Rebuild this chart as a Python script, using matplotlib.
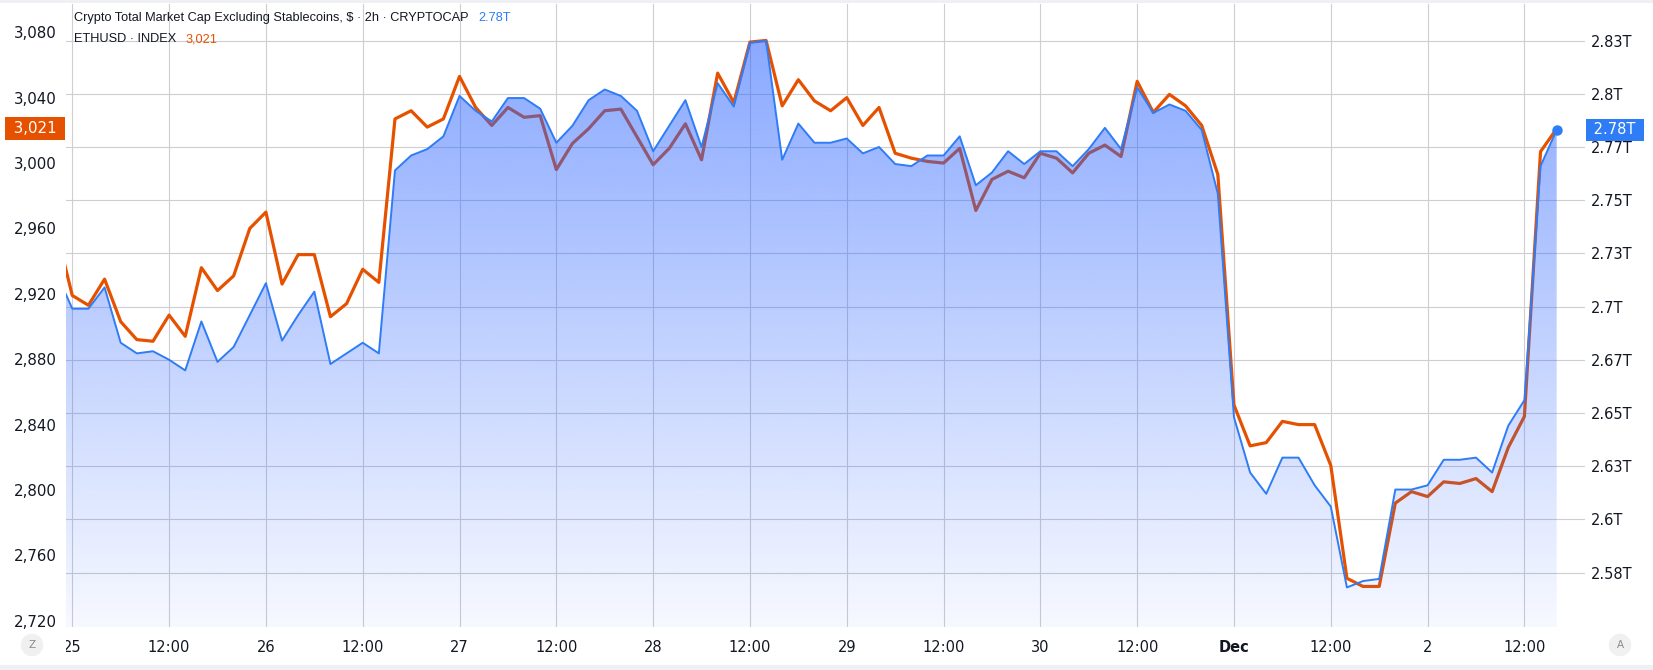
import numpy as np
import matplotlib
matplotlib.use("Agg")
import matplotlib.pyplot as plt
from matplotlib.patches import Polygon, Rectangle
from matplotlib.transforms import Bbox, TransformedBbox, blended_transform_factory

# 2h bars, hours after Nov 25 00:00 (first bar sits just past the left edge)
hours = np.arange(-2, 186, 2)

eth = [2959,
       2919, 2913, 2929, 2903, 2892, 2891, 2907, 2894, 2936, 2922,
       2931, 2960, 2970, 2926, 2944, 2944, 2906, 2914, 2935, 2927,
       3027, 3032, 3022, 3027, 3053, 3034, 3023, 3034, 3028, 3029,
       2996, 3012, 3021, 3032, 3033, 3016, 2999, 3009, 3024, 3002,
       3055, 3037, 3074, 3075, 3035, 3051, 3038, 3032, 3040, 3023,
       3034, 3006, 3003, 3001, 3000, 3009, 2971, 2990, 2995, 2991,
       3006, 3003, 2994, 3006, 3011, 3004, 3050, 3031, 3042, 3035,
       3023, 2993, 2852, 2827, 2829, 2842, 2840, 2840, 2815, 2746,
       2741, 2741, 2792, 2799, 2796, 2805, 2804, 2807, 2799, 2826,
       2845, 3007, 3021]

# total market cap excl. stablecoins, in trillions
cap = [2.716,
       2.699, 2.699, 2.709, 2.683, 2.678, 2.679, 2.675, 2.670, 2.693, 2.674,
       2.681, 2.696, 2.711, 2.684, 2.696, 2.707, 2.673, 2.678, 2.683, 2.678,
       2.764, 2.771, 2.774, 2.780, 2.799, 2.792, 2.787, 2.798, 2.798, 2.793,
       2.777, 2.785, 2.797, 2.802, 2.799, 2.792, 2.773, 2.785, 2.797, 2.775,
       2.805, 2.794, 2.824, 2.825, 2.769, 2.786, 2.777, 2.777, 2.779, 2.772,
       2.775, 2.767, 2.766, 2.771, 2.771, 2.780, 2.757, 2.763, 2.773, 2.767,
       2.773, 2.773, 2.766, 2.774, 2.784, 2.774, 2.803, 2.791, 2.795, 2.792,
       2.783, 2.753, 2.648, 2.622, 2.612, 2.629, 2.629, 2.616, 2.606, 2.568,
       2.571, 2.572, 2.614, 2.614, 2.616, 2.628, 2.628, 2.629, 2.622, 2.644,
       2.656, 2.766, 2.783]

x_ticks = [0, 0.5, 1, 1.5, 2, 2.5, 3, 3.5, 4, 4.5, 5, 5.5, 6, 6.5, 7, 7.5]
x_labels = ["25", "12:00", "26", "12:00", "27", "12:00", "28", "12:00",
            "29", "12:00", "30", "12:00", "Dec", "12:00", "2", "12:00"]
eth_ticks = [2720, 2760, 2800, 2840, 2880, 2920, 2960, 3000, 3040, 3080]
eth_labels = ["2,720", "2,760", "2,800", "2,840", "2,880", "2,920", "2,960",
              "3,000", "3,040", "3,080"]
cap_ticks = [2.575, 2.6, 2.625, 2.65, 2.675, 2.7, 2.725, 2.75, 2.775, 2.8, 2.825]
cap_labels = ["2.58T", "2.6T", "2.63T", "2.65T", "2.67T", "2.7T", "2.73T",
              "2.75T", "2.77T", "2.8T", "2.83T"]

ORANGE = "#E65100"
BLUE = "#2E7CF6"
FILL = np.array([41, 98, 255]) / 255
TXT = "#131722"
GRID = "#cdcdd2"

W, H = 1653, 670
L, R, T, B = 66, 1585, 4, 627
days = hours / 24.0
xlim = (-0.0325, 7.813)
eth_lim = (2716.2, 3097.3)
cap_lim = (2.5494, 2.8422)

fig = plt.figure(figsize=(W / 100, H / 100), dpi=100)
fig.patch.set_facecolor("white")
ax = fig.add_axes([L / W, 1 - B / H, (R - L) / W, (B - T) / H])
ax2 = ax.twinx()

# horizontal grid follows the right (market cap) scale, drawn under everything
hz = blended_transform_factory(ax.transAxes, ax2.transData)
for v in cap_ticks:
    ax.plot([0, 1], [v, v], transform=hz, color=GRID, lw=0.8, zorder=0)
ax.set_xticks(x_ticks)
ax.grid(axis="x", color=GRID, lw=0.8, zorder=0)
ax.set_axisbelow(True)

ax.plot(days, eth, color=ORANGE, lw=2.3, zorder=3)

# gradient area under the market cap line
verts = list(zip(days, cap)) + [(days[-1], cap_lim[0]), (days[0], cap_lim[0])]
clip = Polygon(verts, closed=True, facecolor="none", edgecolor="none")
ax2.add_patch(clip)
grad = np.zeros((256, 1, 4))
grad[:, 0, :3] = FILL
grad[:, 0, 3] = np.linspace(0.58, 0.04, 256)
im = ax2.imshow(grad, extent=[days[0], days[-1], cap_lim[0], cap_lim[1]],
                aspect="auto", origin="upper", zorder=1, interpolation="bilinear")
im.set_clip_path(clip)
ax2.plot(days, cap, color=BLUE, lw=1.4, zorder=4)
ax2.plot(days[-1], cap[-1], "o", ms=6.5, color=BLUE, zorder=5)

ax.set_xlim(*xlim)
ax.set_ylim(*eth_lim)
ax2.set_ylim(*cap_lim)

ax.set_yticks(eth_ticks)
ax.set_yticklabels(eth_labels)
ax2.set_yticks(cap_ticks)
ax2.set_yticklabels(cap_labels)
ax.set_xticklabels(x_labels)
ax.get_xticklabels()[12].set_fontweight("bold")

ax.tick_params(axis="y", length=0, pad=6.5, labelsize=10.8, labelcolor=TXT)
ax2.tick_params(axis="y", length=0, pad=4, labelsize=10.5, labelcolor=TXT)
ax.tick_params(axis="x", length=0, pad=9, labelsize=10.5, labelcolor=TXT)
for a in (ax, ax2):
    for s in a.spines.values():
        s.set_visible(False)

# first date label is cut by the pane edge
cut = TransformedBbox(Bbox([[L / W, 0], [1, 1]]), fig.transFigure)
first = ax.get_xticklabels()[0]
first.set_clip_box(cut)
first.set_clip_on(True)

# last value badges
ax.text(-0.0033, eth[-1], " 3,021 ", transform=blended_transform_factory(ax.transAxes, ax.transData),
        ha="right", va="center", color="white", fontsize=10.8, zorder=10,
        bbox=dict(boxstyle="square,pad=0.25", fc=ORANGE, ec="none"), clip_on=False)
ax2.text(1.0029, cap[-1], " 2.78T ", transform=blended_transform_factory(ax2.transAxes, ax2.transData),
         ha="left", va="center", color="white", fontsize=10.5, zorder=10,
         bbox=dict(boxstyle="square,pad=0.25", fc=BLUE, ec="none"), clip_on=False)

# legend lines
fig.canvas.draw()
r = fig.canvas.get_renderer()
t1 = fig.text(74 / W, 1 - 18 / H, "Crypto Total Market Cap Excluding Stablecoins, $ \u00b7 2h \u00b7 CRYPTOCAP",
              fontsize=9.2, color=TXT, va="center", family="Liberation Sans")
bb = t1.get_window_extent(r)
fig.text((bb.x1 + 10) / W, 1 - 18 / H, "2.78T", fontsize=9.2, color=BLUE, va="center",
         family="Liberation Sans")
t2 = fig.text(74 / W, 1 - 39 / H, "ETHUSD \u00b7 INDEX", fontsize=9.2, color=TXT, va="center",
              family="Liberation Sans")
bb = t2.get_window_extent(r)
fig.text((bb.x1 + 9) / W, 1 - 39 / H, "3,021", fontsize=9.2, color=ORANGE, va="center",
         family="Liberation Sans")

# corner buttons and pane borders
fig.text(32 / W, 1 - 645 / H, "Z", ha="center", va="center", fontsize=7.5, color="#8a8a8a",
         bbox=dict(boxstyle="circle,pad=0.6", fc="#f0f0f0", ec="none"))
fig.text(1620 / W, 1 - 645 / H, "A", ha="center", va="center", fontsize=7.5, color="#8a8a8a",
         bbox=dict(boxstyle="circle,pad=0.6", fc="#f0f0f0", ec="none"))
fig.add_artist(Rectangle((0, 1 - 3 / H), 1, 3 / H, transform=fig.transFigure,
                         color="#eef0f3", lw=0))
fig.add_artist(Rectangle((0, 0), 1, 5 / H, transform=fig.transFigure,
                         color="#eef0f3", lw=0))

fig.savefig("out.png", dpi=100)
